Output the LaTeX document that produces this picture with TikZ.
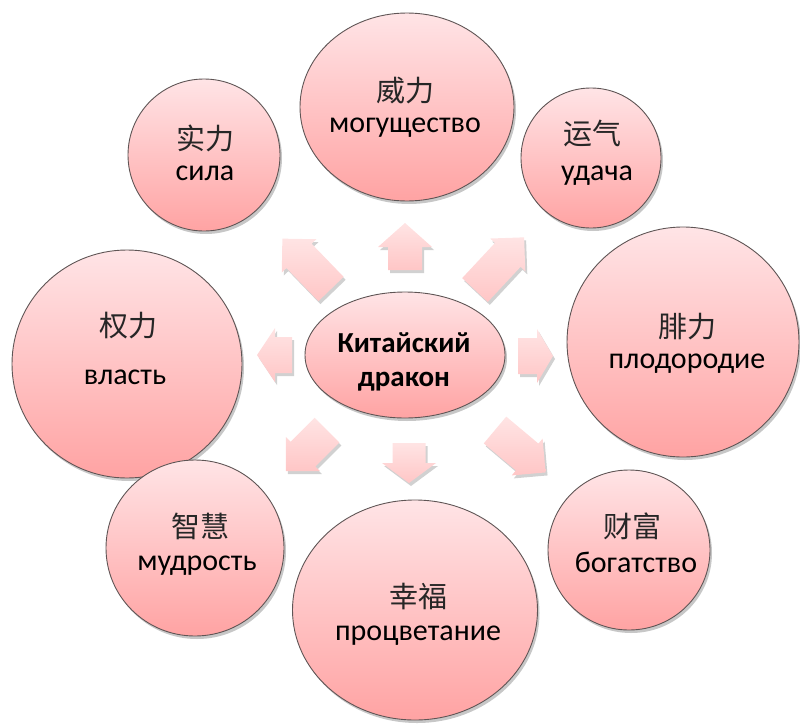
\documentclass[tikz,border=0pt]{standalone}
\usepackage{fontspec}
\setmainfont{Carlito}
\newfontfamily\zhfont{Noto Sans CJK SC}
\usetikzlibrary{shapes.geometric,shadows}
\definecolor{pinkTop}{RGB}{255,228,230}
\definecolor{pinkBot}{RGB}{255,163,163}
\definecolor{edgeGray}{RGB}{95,85,85}
\definecolor{arTop}{RGB}{255,228,228}
\definecolor{arBot}{RGB}{255,198,198}
\tikzset{
  bubble/.style={ellipse, draw=edgeGray, line width=0.9pt, top color=pinkTop, bottom color=pinkBot,
    inner sep=0pt, drop shadow={shadow xshift=2pt, shadow yshift=-3pt, opacity=0.22, fill=black}},
  zhlabel/.style={font=\zhfont\fontsize{29}{34}\selectfont, text=black!85, inner sep=0pt},
  rulabel/.style={font=\fontsize{30}{36}\selectfont, anchor=base, inner sep=0pt},
  centerlabel/.style={font=\bfseries\fontsize{29}{34}\selectfont, anchor=base, inner sep=0pt},
  barrowshape/.style={top color=arTop, bottom color=arBot,
    drop shadow={shadow xshift=2pt, shadow yshift=-3pt, opacity=0.18, fill=black}}
}
% #1 x, #2 y (tail centre), #3 angle, #4 length, #5 shaft half width, #6 head half width, #7 head length
\newcommand{\blockarrow}[7]{%
  \pgfmathsetmacro\arUx{cos(#3)}\pgfmathsetmacro\arUy{-sin(#3)}%
  \pgfmathsetmacro\arVx{sin(#3)}\pgfmathsetmacro\arVy{cos(#3)}%
  \pgfmathsetmacro\arB{#4-#7}%
  \path[barrowshape]
    ({#1-#5*\arVx},{#2-#5*\arVy})
    -- ({#1+\arB*\arUx-#5*\arVx},{#2+\arB*\arUy-#5*\arVy})
    -- ({#1+\arB*\arUx-#6*\arVx},{#2+\arB*\arUy-#6*\arVy})
    -- ({#1+#4*\arUx},{#2+#4*\arUy})
    -- ({#1+\arB*\arUx+#6*\arVx},{#2+\arB*\arUy+#6*\arVy})
    -- ({#1+\arB*\arUx+#5*\arVx},{#2+\arB*\arUy+#5*\arVy})
    -- ({#1+#5*\arVx},{#2+#5*\arVy}) -- cycle;}
\begin{document}
\begin{tikzpicture}[x=1pt,y=-1pt]
\useasboundingbox (0,0) rectangle (800,723);
% block arrows
\blockarrow{405}{270}{90}{47}{17}{27}{24}
\blockarrow{409}{443}{270}{40}{16.5}{27}{20}
\blockarrow{292}{355}{180}{35}{18}{27}{18}
\blockarrow{518}{356}{0}{35}{18}{27}{16}
\blockarrow{331}{289}{134}{70}{17.5}{24}{24}
\blockarrow{475}{290}{47}{72}{17.5}{24}{24}
\blockarrow{327}{430}{225}{58}{17.5}{24}{24}
\blockarrow{495}{430}{320}{66}{17.5}{24}{24}
% bubbles
\node[bubble, minimum width=152, minimum height=152] (b1) at (204,155) {};
\node[bubble, minimum width=214, minimum height=188] (b2) at (407,107) {};
\node[bubble, minimum width=140, minimum height=140] (b3) at (591,158) {};
\node[bubble, minimum width=230, minimum height=228] (b4) at (127,364) {};
\node[bubble, minimum width=232, minimum height=230] (b5) at (683,342) {};
\node[bubble, minimum width=178, minimum height=176] (b6) at (195,548) {};
\node[bubble, minimum width=245, minimum height=220] (b7) at (415,610) {};
\node[bubble, minimum width=162, minimum height=160] (b8) at (629,550) {};
\node[bubble, minimum width=200, minimum height=126] (c) at (405,355) {};
% labels
\node[zhlabel] (z1) at (205,138) {实力};
\node[rulabel] (r1) at (205,180) {сила};
\node[zhlabel] (z2) at (405,91) {威力};
\node[rulabel] (r2) at (405,132) {могущество};
\node[zhlabel] (z3) at (592,134) {运气};
\node[rulabel] (r3) at (597,180) {удача};
\node[zhlabel] (z4) at (128,326) {权力};
\node[rulabel] (r4) at (125,384) {власть};
\node[zhlabel] (z5) at (687,327) {腓力};
\node[rulabel] (r5) at (687,368) {плодородие};
\node[zhlabel] (z6) at (200,526) {智慧};
\node[rulabel] (r6) at (197,570) {мудрость};
\node[zhlabel] (z7) at (418,596) {幸福};
\node[rulabel] (r7) at (418,640) {процветание};
\node[zhlabel] (z8) at (632,526) {财富};
\node[rulabel] (r8) at (636,572) {богатство};
\node[centerlabel] (c1) at (404,352) {Китайский};
\node[centerlabel] (c2) at (404,386) {дракон};
\end{tikzpicture}
\end{document}
